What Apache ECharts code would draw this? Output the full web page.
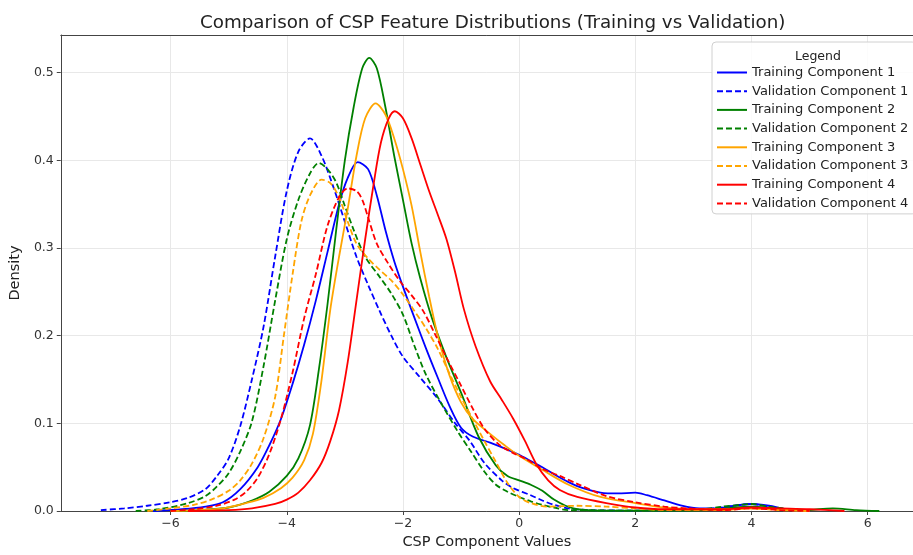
<!DOCTYPE html>
<html>
<head>
<meta charset="utf-8">
<script src="https://cdn.jsdelivr.net/npm/echarts@6/dist/echarts.min.js"></script>
<style>
html,body{margin:0;padding:0;background:#fff;}
#chart{width:913px;height:555px;}
</style>
</head>
<body>
<div id="chart"></div>
<script>
const seriesNames = ['Training Component 1','Validation Component 1','Training Component 2','Validation Component 2','Training Component 3','Validation Component 3','Training Component 4','Validation Component 4'];
const xTicks = [-6, -4, -2, 0, 2, 4, 6];
const yTicks = [0, 0.1, 0.2, 0.3, 0.4, 0.5];

// Training Component 1 (blue solid)
const t1X = [-6.3,-5.8,-5.4,-5.1,-4.8,-4.5,-4.3,-4.1,-3.9,-3.7,-3.5,-3.3,-3.1,-2.95,-2.78,-2.6,-2.45,-2.3,-2.15,-2.0,-1.8,-1.6,-1.4,-1.2,-1.0,-0.8,-0.5,-0.2,0.0,0.2,0.4,0.6,0.85,1.1,1.4,1.7,2.0,2.2,2.5,2.8,3.1,3.4,3.7,4.0,4.3,4.6,5.0];
const t1Y = [0.0,0.002,0.005,0.01,0.025,0.05,0.075,0.105,0.145,0.19,0.24,0.295,0.35,0.38,0.398,0.39,0.36,0.32,0.285,0.256,0.22,0.185,0.152,0.12,0.095,0.085,0.078,0.07,0.064,0.057,0.05,0.042,0.033,0.026,0.021,0.02,0.021,0.018,0.012,0.006,0.003,0.003,0.006,0.008,0.006,0.002,0.0];
// Validation Component 1 (blue dashed)
const v1X = [-7.2,-6.8,-6.4,-6.0,-5.7,-5.4,-5.2,-5.0,-4.8,-4.6,-4.4,-4.2,-4.0,-3.8,-3.6,-3.4,-3.2,-3.0,-2.8,-2.6,-2.4,-2.2,-2.0,-1.7,-1.4,-1.1,-0.85,-0.6,-0.3,-0.1,0.2,0.4,0.6,0.85,1.2,2.0,3.0,3.5,3.8,4.0,4.3,4.8];
const v1Y = [0.001,0.003,0.006,0.01,0.015,0.025,0.04,0.06,0.097,0.15,0.21,0.29,0.365,0.41,0.425,0.405,0.37,0.33,0.29,0.258,0.228,0.2,0.176,0.152,0.128,0.1,0.08,0.055,0.035,0.026,0.018,0.012,0.007,0.003,0.001,0.0005,0.001,0.004,0.007,0.008,0.005,0.0];
// Training Component 2 (green solid)
const t2X = [-6.0,-5.5,-5.0,-4.6,-4.3,-4.0,-3.8,-3.6,-3.45,-3.3,-3.15,-3.0,-2.85,-2.7,-2.58,-2.45,-2.3,-2.15,-2.0,-1.85,-1.7,-1.5,-1.25,-1.0,-0.7,-0.4,-0.2,0.0,0.2,0.4,0.6,0.8,1.0,1.4,2.5,3.3,3.7,4.0,4.4,4.9,5.4,5.8,6.2];
const t2Y = [0.0,0.001,0.004,0.012,0.022,0.04,0.06,0.098,0.16,0.235,0.32,0.40,0.46,0.505,0.517,0.505,0.46,0.405,0.355,0.305,0.265,0.22,0.175,0.135,0.085,0.052,0.04,0.035,0.03,0.023,0.013,0.006,0.002,0.0005,0.0005,0.001,0.004,0.005,0.003,0.001,0.003,0.001,0.0];
// Validation Component 2 (green dashed)
const v2X = [-6.6,-6.2,-5.7,-5.4,-5.2,-5.0,-4.8,-4.6,-4.4,-4.2,-4.0,-3.8,-3.6,-3.45,-3.3,-3.15,-3.0,-2.85,-2.65,-2.4,-2.2,-2.0,-1.8,-1.6,-1.3,-1.05,-0.85,-0.6,-0.4,-0.2,0.0,0.2,0.4,0.6,0.85,2.0,3.0,3.5,3.8,4.0,4.3,4.9];
const v2Y = [0.0,0.002,0.009,0.017,0.028,0.043,0.068,0.102,0.165,0.24,0.31,0.355,0.385,0.397,0.39,0.375,0.348,0.321,0.29,0.267,0.248,0.224,0.188,0.155,0.118,0.09,0.07,0.045,0.03,0.022,0.016,0.011,0.007,0.004,0.001,0.0005,0.001,0.005,0.007,0.008,0.005,0.0];
// Training Component 3 (orange solid)
const t3X = [-6.0,-5.5,-5.1,-4.7,-4.4,-4.1,-3.9,-3.7,-3.55,-3.4,-3.25,-3.1,-2.95,-2.8,-2.65,-2.47,-2.3,-2.15,-2.0,-1.85,-1.7,-1.55,-1.4,-1.2,-1.0,-0.8,-0.5,-0.25,0.0,0.4,0.85,1.4,2.0,2.5,3.0,3.5,4.0,4.5,5.0];
const t3Y = [0.0,0.001,0.003,0.009,0.015,0.026,0.038,0.058,0.088,0.15,0.23,0.29,0.345,0.405,0.448,0.465,0.452,0.425,0.39,0.348,0.295,0.245,0.2,0.155,0.124,0.105,0.088,0.075,0.063,0.047,0.03,0.016,0.009,0.004,0.002,0.002,0.003,0.002,0.0];
// Validation Component 3 (orange dashed)
const v3X = [-6.4,-6.0,-5.6,-5.3,-5.0,-4.8,-4.6,-4.4,-4.2,-4.05,-3.9,-3.75,-3.6,-3.4,-3.25,-3.1,-2.95,-2.8,-2.6,-2.4,-2.2,-2.0,-1.8,-1.6,-1.4,-1.2,-1.0,-0.8,-0.6,-0.4,-0.2,0.0,0.2,0.5,1.0,1.5,2.0,2.5,3.5,4.0,4.5,5.0];
const v3Y = [0.0,0.003,0.007,0.013,0.023,0.035,0.054,0.083,0.13,0.2,0.27,0.33,0.36,0.378,0.374,0.358,0.33,0.305,0.288,0.275,0.263,0.247,0.228,0.208,0.185,0.157,0.13,0.105,0.08,0.056,0.032,0.016,0.009,0.005,0.006,0.005,0.003,0.001,0.001,0.003,0.001,0.0];
// Training Component 4 (red solid)
const t4X = [-5.7,-5.0,-4.6,-4.2,-4.0,-3.8,-3.6,-3.4,-3.25,-3.1,-2.95,-2.8,-2.65,-2.5,-2.38,-2.25,-2.14,-2.0,-1.85,-1.7,-1.55,-1.4,-1.25,-1.1,-0.95,-0.75,-0.5,-0.3,-0.1,0.1,0.3,0.5,0.7,1.0,1.5,2.0,2.5,3.0,3.5,4.0,4.5,5.0,5.6];
const t4Y = [0.0,0.001,0.003,0.008,0.013,0.021,0.035,0.055,0.08,0.115,0.17,0.24,0.31,0.375,0.42,0.447,0.456,0.448,0.425,0.395,0.365,0.338,0.31,0.272,0.23,0.188,0.148,0.127,0.105,0.08,0.053,0.035,0.024,0.016,0.009,0.004,0.002,0.002,0.002,0.004,0.003,0.002,0.0];
// Validation Component 4 (red dashed)
const v4X = [-6.0,-5.6,-5.2,-4.9,-4.7,-4.5,-4.3,-4.1,-3.9,-3.7,-3.5,-3.3,-3.1,-2.95,-2.8,-2.7,-2.6,-2.45,-2.25,-2.05,-1.85,-1.65,-1.45,-1.25,-1.0,-0.8,-0.6,-0.35,-0.1,0.1,0.4,0.7,1.0,1.5,2.0,2.5,2.9,3.5,4.0,4.5,5.0];
const v4Y = [0.0,0.002,0.006,0.013,0.022,0.038,0.065,0.105,0.158,0.22,0.27,0.325,0.358,0.368,0.365,0.355,0.335,0.305,0.282,0.262,0.246,0.228,0.202,0.175,0.143,0.117,0.094,0.076,0.066,0.06,0.048,0.04,0.031,0.017,0.01,0.005,0.003,0.001,0.003,0.001,0.0];

const xs = [t1X, v1X, t2X, v2X, t3X, v3X, t4X, v4X];
const ys = [t1Y, v1Y, t2Y, v2Y, t3Y, v3Y, t4Y, v4Y];
const colors = ['#0000ff','#0000ff','#008000','#008000','#ffa500','#ffa500','#ff0000','#ff0000'];

const FONT = 'DejaVu Sans';
const minus = v => String(v).replace('-', '\u2212');

const series = seriesNames.map((name, i) => ({
  name: name,
  type: 'line',
  data: xs[i].map((x, k) => [x, ys[i][k]]),
  showSymbol: false,
  symbol: 'none',
  smooth: 0.3,
  color: colors[i],
  lineStyle: { width: 1.8, color: colors[i], type: i % 2 === 1 ? [6, 3] : 'solid' },
  emphasis: { disabled: true },
  animation: false
}));

const chart = echarts.init(document.getElementById('chart'), null, { renderer: 'canvas' });
chart.setOption({
  animation: false,
  backgroundColor: '#ffffff',
  textStyle: { fontFamily: FONT },
  title: [
    { text: 'Comparison of CSP Feature Distributions (Training vs Validation)', left: 195, top: 9,
      textStyle: { fontFamily: FONT, fontSize: 18.3, fontWeight: 'normal', color: '#222' } },
    { text: 'Legend', left: 790, top: 45,
      textStyle: { fontFamily: FONT, fontSize: 12.5, fontWeight: 'normal', color: '#222' } }
  ],
  legend: {
    orient: 'vertical', left: 712, top: 42,
    padding: [24, 8, 4, 4],
    itemWidth: 30, itemHeight: 14, itemGap: 5.7,
    itemStyle: { opacity: 0 },
    backgroundColor: 'rgba(255,255,255,0.85)', borderColor: '#d0d0d0', borderWidth: 1, borderRadius: 4,
    textStyle: { fontFamily: FONT, fontSize: 13, color: '#222' },
    data: seriesNames,
    selectedMode: false
  },
  grid: { left: 57, top: 35, right: 0, bottom: 44, containLabel: false },
  xAxis: [{
    type: 'value', min: -7.89, max: 6.78,
    name: 'CSP Component Values', nameLocation: 'middle', nameGap: 23,
    nameTextStyle: { fontFamily: FONT, fontSize: 14.5, color: '#222' },
    axisLine: { show: true, onZero: false, lineStyle: { color: '#444', width: 1 } },
    axisTick: { show: true, length: 4, lineStyle: { color: '#444' }, customValues: xTicks },
    axisLabel: { customValues: xTicks, formatter: v => minus(v), fontFamily: FONT, fontSize: 12.5, color: '#333', margin: 6 },
    splitLine: { show: true, lineStyle: { color: '#e8e8e8', width: 1 } }
  }, {
    type: 'value', position: 'top', min: -7.89, max: 6.78,
    axisLine: { show: true, onZero: false, lineStyle: { color: '#444', width: 1 } },
    axisTick: { show: false }, axisLabel: { show: false }, splitLine: { show: false }
  }],
  yAxis: {
    type: 'value', min: 0, max: 0.543, interval: 0.1,
    name: 'Density', nameLocation: 'middle', nameGap: 34,
    nameTextStyle: { fontFamily: FONT, fontSize: 14.5, color: '#222' },
    axisLine: { show: true, onZero: false, lineStyle: { color: '#444', width: 1 } },
    axisTick: { show: true, length: 4, lineStyle: { color: '#444' } },
    axisLabel: { formatter: v => (yTicks.includes(Math.round(v * 10) / 10) ? v.toFixed(1) : ''), showMaxLabel: false, fontFamily: FONT, fontSize: 12.5, color: '#333', margin: 7 },
    splitLine: { show: true, lineStyle: { color: '#e8e8e8', width: 1 } }
  },
  series: series
});
</script>
</body>
</html>
